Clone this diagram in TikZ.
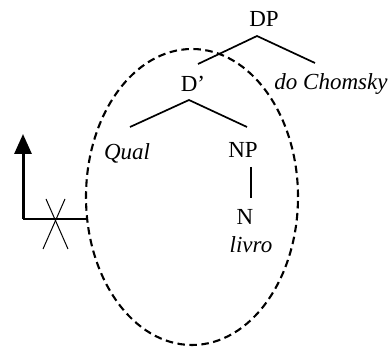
\documentclass[tikz,border=0pt]{standalone}
\usepackage{fontspec}
\setmainfont{Liberation Serif}
\usetikzlibrary{arrows.meta,shapes.geometric}
\begin{document}
\begin{tikzpicture}[x=1pt,y=-1pt,
  lbl/.style={inner sep=0pt,anchor=base,font=\fontsize{23}{27}\selectfont},
  branch/.style={line width=1.7pt},
  bubble/.style={draw,ellipse,line width=2.1pt,dash pattern=on 7.5pt off 4.5pt,
    minimum width=212pt,minimum height=296pt,inner sep=0pt},
  blocked/.style={line width=1pt}]
\useasboundingbox (0,0) rectangle (392,347);
% ellipse
\node[bubble] (ell) at (192,197) {};
% labels
\node[lbl] (DP) at (264,27) {DP};
\node[lbl] (Dbar) at (193,92) {D’};
\node[lbl] (chomsky) at (331,90) {\itshape do Chomsky};
\node[lbl] (qual) at (127,160) {\itshape Qual};
\node[lbl] (NP) at (243,158) {NP};
\node[lbl] (N) at (245,225) {N};
\node[lbl] (livro) at (251,253) {\itshape livro};
% branch points
\coordinate (dpapex) at (257,36);
\coordinate (dpl) at (198,64);
\coordinate (dpr) at (315,63);
\coordinate (dbapex) at (189,100);
\coordinate (dbl) at (130,127);
\coordinate (dbr) at (247,127);
\coordinate (npt) at (251,167);
\coordinate (npb) at (251,198);
\draw[branch] (dpl) -- (dpapex) -- (dpr);
\draw[branch] (dbl) -- (dbapex) -- (dbr);
\draw[line width=1.2pt] (npt) -- (npb);
% movement arrow
\coordinate (corner) at (23,219);
\coordinate (tip) at (23,134);
\draw[line width=3pt,-{Triangle[length=20pt,width=17pt]}] (corner) -- (tip);
\draw[line width=2.2pt] (corner) -- (corner -| ell.191.8);
% blocked cross
\coordinate (x1a) at (46,199);
\coordinate (x1b) at (68,249);
\coordinate (x2a) at (65,199);
\coordinate (x2b) at (43,249);
\draw[blocked] (x1a) -- (x1b);
\draw[blocked] (x2a) -- (x2b);
\end{tikzpicture}
\end{document}
